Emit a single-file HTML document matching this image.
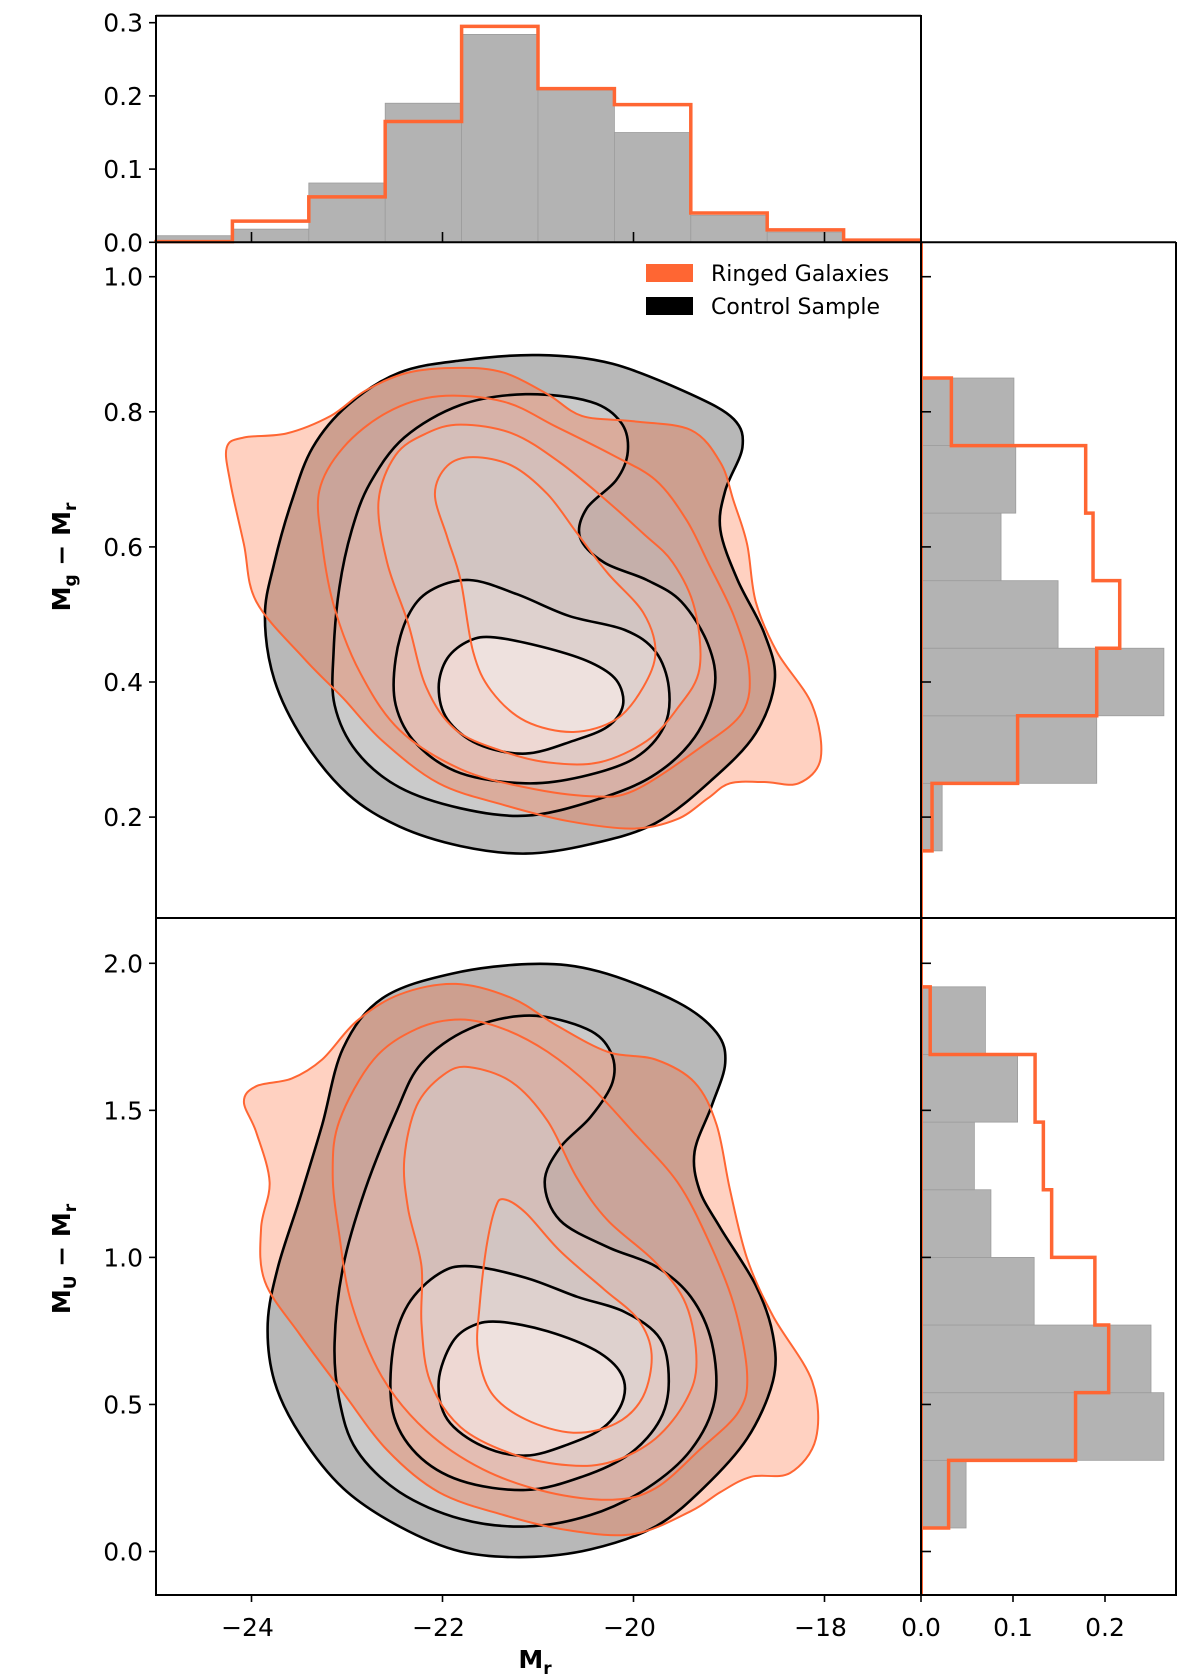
<!DOCTYPE html>
<html><head><meta charset="utf-8"><style>
html,body{margin:0;padding:0;background:#fff;}
svg{display:block;font-family:"DejaVu Sans","Liberation Sans",sans-serif;}
</style></head><body>
<svg id="fig" xmlns="http://www.w3.org/2000/svg" width="1200" height="1680" viewBox="0 0 1200 1680">
<rect width="1200" height="1680" fill="#fff"/>
<g id="top-hist"></g>
<g id="main1"></g>
<g id="main2"></g>
<g id="right1"></g>
<g id="right2"></g>
<g id="axes"></g>
<g>
  <rect x="646" y="264" width="47" height="18" fill="#ff6633"/>
  <text x="711" y="281" font-size="22">Ringed Galaxies</text>
  <rect x="646" y="297" width="47" height="18" fill="#000"/>
  <text x="711" y="314" font-size="22">Control Sample</text>
</g>
<text transform="translate(70,557) rotate(-90)" text-anchor="middle" font-size="25" font-weight="bold">M<tspan font-size="17" dy="6">g</tspan><tspan dy="-6"> − M</tspan><tspan font-size="17" dy="6">r</tspan></text>
<text transform="translate(70,1259) rotate(-90)" text-anchor="middle" font-size="25" font-weight="bold">M<tspan font-size="17" dy="6">U</tspan><tspan dy="-6"> − M</tspan><tspan font-size="17" dy="6">r</tspan></text>
<text x="535" y="1668" text-anchor="middle" font-size="25" font-weight="bold">M<tspan font-size="17" dy="6">r</tspan></text>
</svg>
<script>
// ---------- data ----------
const magEdges = [-25,-24.2,-23.4,-22.6,-21.8,-21.0,-20.2,-19.4,-18.6,-17.8,-17.0];
const topControl = [0.009,0.018,0.081,0.190,0.284,0.208,0.150,0.037,0.014,0.002];
const topRinged = [0.001,0.029,0.062,0.165,0.295,0.210,0.188,0.040,0.017,0.003];
const grEdges = [0.15,0.25,0.35,0.45,0.55,0.65,0.75,0.85];
const grControl = [0.023,0.191,0.264,0.149,0.087,0.103,0.101];
const grRinged = [0.012,0.105,0.191,0.216,0.187,0.179,0.033];
const urEdges = [0.08,0.31,0.54,0.77,1.00,1.23,1.46,1.69,1.92];
const urControl = [0.049,0.264,0.250,0.123,0.076,0.058,0.105,0.070];
const urRinged = [0.030,0.168,0.204,0.189,0.142,0.133,0.124,0.010];
const topTicks = ["0.0","0.1","0.2","0.3"];
const grTicks = ["0.2","0.4","0.6","0.8","1.0"];
const urTicks = ["0.0","0.5","1.0","1.5","2.0"];
const magTicks = ["−24","−22","−20","−18"];
const sideTicks = ["0.0","0.1","0.2"];

// contour vertices (data coordinates) — g-r panel
const grControl1 = [[-20.99,0.884],[-20.22,0.871],[-19.40,0.826],[-18.95,0.789],[-18.86,0.747],[-19.04,0.683],[-19.09,0.625],[-18.91,0.551],[-18.63,0.472],[-18.52,0.403],[-18.72,0.324],[-19.18,0.255],[-19.77,0.191],[-20.45,0.160],[-21.13,0.146],[-21.81,0.157],[-22.45,0.186],[-22.99,0.234],[-23.45,0.313],[-23.76,0.403],[-23.86,0.498],[-23.76,0.577],[-23.58,0.667],[-23.36,0.747],[-22.99,0.810],[-22.45,0.858],[-21.81,0.876]];
const grControl2 = [[-21.13,0.826],[-20.45,0.815],[-20.13,0.784],[-20.06,0.741],[-20.18,0.699],[-20.49,0.657],[-20.56,0.614],[-20.31,0.577],[-19.86,0.551],[-19.50,0.519],[-19.22,0.456],[-19.15,0.392],[-19.36,0.318],[-19.81,0.260],[-20.45,0.223],[-21.13,0.202],[-21.81,0.213],[-22.45,0.244],[-22.90,0.297],[-23.13,0.366],[-23.14,0.445],[-23.08,0.540],[-22.95,0.625],[-22.76,0.694],[-22.40,0.762],[-21.81,0.810]];
const grControl3 = [[-21.72,0.551],[-21.22,0.530],[-20.68,0.498],[-20.09,0.477],[-19.77,0.445],[-19.63,0.392],[-19.68,0.334],[-19.99,0.287],[-20.54,0.260],[-21.13,0.250],[-21.81,0.265],[-22.27,0.308],[-22.49,0.366],[-22.49,0.435],[-22.36,0.498],[-22.13,0.535]];
const grControl4 = [[-21.45,0.466],[-20.90,0.450],[-20.45,0.429],[-20.18,0.403],[-20.11,0.366],[-20.27,0.334],[-20.63,0.313],[-21.13,0.294],[-21.63,0.308],[-21.95,0.345],[-22.04,0.392],[-21.95,0.435],[-21.72,0.461]];
const grRinged1 = [[-21.81,0.865],[-21.36,0.858],[-20.90,0.826],[-20.54,0.794],[-20.00,0.786],[-19.40,0.773],[-19.09,0.725],[-18.95,0.667],[-18.81,0.604],[-18.72,0.519],[-18.50,0.445],[-18.13,0.366],[-18.04,0.287],[-18.27,0.250],[-18.63,0.252],[-18.99,0.250],[-19.22,0.228],[-19.54,0.197],[-20.00,0.183],[-20.68,0.194],[-21.36,0.218],[-22.04,0.250],[-22.63,0.313],[-23.04,0.376],[-23.45,0.435],[-23.95,0.519],[-24.08,0.604],[-24.22,0.694],[-24.26,0.747],[-24.08,0.762],[-23.63,0.768],[-23.17,0.794],[-22.81,0.831],[-22.36,0.858]];
const grRinged2 = [[-22.04,0.823],[-21.36,0.815],[-20.81,0.778],[-20.22,0.736],[-19.77,0.699],[-19.45,0.641],[-19.22,0.577],[-18.95,0.498],[-18.79,0.419],[-18.86,0.355],[-19.31,0.302],[-20.00,0.239],[-20.45,0.231],[-21.13,0.244],[-21.81,0.271],[-22.45,0.329],[-22.86,0.413],[-23.13,0.509],[-23.26,0.604],[-23.29,0.683],[-23.04,0.747],[-22.58,0.799]];
const grRinged3 = [[-21.81,0.781],[-21.27,0.768],[-20.77,0.725],[-20.27,0.667],[-19.90,0.620],[-19.59,0.577],[-19.36,0.509],[-19.31,0.419],[-19.54,0.361],[-19.86,0.313],[-20.36,0.281],[-20.90,0.281],[-21.36,0.297],[-21.86,0.329],[-22.17,0.392],[-22.36,0.487],[-22.58,0.577],[-22.67,0.667],[-22.49,0.736],[-22.17,0.768]];
const grRinged4 = [[-21.68,0.733],[-21.27,0.720],[-20.90,0.678],[-20.59,0.620],[-20.27,0.561],[-19.90,0.503],[-19.77,0.445],[-19.90,0.392],[-20.18,0.345],[-20.63,0.326],[-21.13,0.342],[-21.49,0.387],[-21.68,0.445],[-21.81,0.551],[-21.95,0.614],[-22.08,0.678],[-21.95,0.720]];
// u-r panel
const urControl1 = [[-21.04,1.998],[-20.36,1.972],[-19.54,1.868],[-19.13,1.764],[-19.04,1.660],[-19.18,1.516],[-19.36,1.360],[-19.31,1.230],[-19.09,1.100],[-18.72,0.905],[-18.54,0.736],[-18.54,0.579],[-18.81,0.384],[-19.27,0.215],[-19.77,0.085],[-20.45,0.007],[-21.13,-0.019],[-21.81,0.000],[-22.45,0.085],[-23.04,0.215],[-23.49,0.397],[-23.76,0.579],[-23.83,0.775],[-23.72,0.970],[-23.49,1.204],[-23.26,1.451],[-23.04,1.712],[-22.63,1.881],[-21.90,1.965]];
const urControl2 = [[-21.09,1.822],[-20.49,1.777],[-20.24,1.699],[-20.22,1.595],[-20.45,1.477],[-20.77,1.373],[-20.93,1.256],[-20.77,1.126],[-20.27,1.035],[-19.77,0.970],[-19.40,0.866],[-19.18,0.710],[-19.15,0.514],[-19.40,0.345],[-19.86,0.215],[-20.45,0.124],[-21.13,0.085],[-21.81,0.111],[-22.45,0.202],[-22.90,0.345],[-23.08,0.514],[-23.13,0.710],[-23.04,0.970],[-22.81,1.230],[-22.49,1.490],[-22.22,1.660],[-21.72,1.777]];
const urControl3 = [[-21.72,0.970],[-21.13,0.931],[-20.59,0.866],[-20.09,0.814],[-19.72,0.723],[-19.63,0.579],[-19.72,0.449],[-20.04,0.332],[-20.54,0.254],[-21.13,0.209],[-21.81,0.241],[-22.27,0.332],[-22.52,0.475],[-22.52,0.684],[-22.36,0.840],[-22.04,0.944]];
const urControl4 = [[-21.40,0.781],[-20.90,0.749],[-20.40,0.684],[-20.13,0.605],[-20.11,0.514],[-20.31,0.423],[-20.68,0.365],[-21.13,0.326],[-21.58,0.358],[-21.95,0.449],[-22.04,0.579],[-21.90,0.710],[-21.68,0.768]];
const urRinged1 = [[-21.86,1.930],[-21.27,1.881],[-20.81,1.790],[-20.27,1.699],[-19.77,1.673],[-19.36,1.595],[-19.13,1.451],[-18.99,1.230],[-18.81,0.996],[-18.54,0.801],[-18.13,0.579],[-18.09,0.384],[-18.36,0.267],[-18.77,0.254],[-19.09,0.202],[-19.40,0.137],[-20.00,0.059],[-20.68,0.072],[-21.36,0.124],[-22.04,0.202],[-22.58,0.345],[-23.04,0.540],[-23.49,0.736],[-23.86,0.918],[-23.90,1.100],[-23.81,1.256],[-23.95,1.425],[-24.08,1.529],[-23.95,1.582],[-23.58,1.608],[-23.26,1.673],[-22.90,1.803],[-22.45,1.894]];
const urRinged2 = [[-21.81,1.809],[-21.36,1.777],[-20.90,1.699],[-20.45,1.582],[-20.00,1.425],[-19.54,1.256],[-19.22,1.061],[-18.95,0.840],[-18.81,0.605],[-18.90,0.475],[-19.31,0.345],[-19.77,0.215],[-20.22,0.176],[-20.90,0.202],[-21.58,0.280],[-22.17,0.410],[-22.63,0.592],[-22.95,0.840],[-23.08,1.074],[-23.15,1.282],[-23.08,1.464],[-22.72,1.673],[-22.27,1.777]];
const urRinged3 = [[-21.72,1.647],[-21.27,1.595],[-20.90,1.464],[-20.59,1.269],[-20.27,1.126],[-19.77,0.983],[-19.45,0.840],[-19.34,0.645],[-19.45,0.514],[-19.77,0.384],[-20.22,0.306],[-20.68,0.293],[-21.27,0.332],[-21.81,0.423],[-22.13,0.579],[-22.22,0.775],[-22.22,0.970],[-22.36,1.165],[-22.40,1.334],[-22.27,1.516],[-21.99,1.621]];
const urRinged4 = [[-21.36,1.198],[-21.13,1.152],[-20.77,1.022],[-20.31,0.892],[-19.95,0.788],[-19.81,0.671],[-19.90,0.527],[-20.18,0.436],[-20.63,0.404],[-21.13,0.449],[-21.49,0.540],[-21.63,0.684],[-21.61,0.840],[-21.54,1.035],[-21.45,1.165]];

// ---------- axes functions ----------
const NS = "http://www.w3.org/2000/svg";
const X0 = 156, X1 = 920;
const xMag = v => X0 + (v + 25) / 8 * (X1 - X0);
const yTop = v => 242.3 - v * 732;
const yGr = v => 276.7 + (1.0 - v) * 675.5;
const yUr = v => 963.3 + (2.0 - v) * 294.1;
const xSide = v => 921 + v * 920;

function mk(tag, attrs, parent) {
  const el = document.createElementNS(NS, tag);
  for (const k in attrs) el.setAttribute(k, attrs[k]);
  parent.appendChild(el);
  return el;
}
function smoothPath(pts, fx, fy) {
  const P = pts.map(p => [fx(p[0]), fy(p[1])]);
  const n = P.length;
  let d = "M" + P[0][0].toFixed(1) + "," + P[0][1].toFixed(1);
  for (let i = 0; i < n; i++) {
    const p0 = P[(i - 1 + n) % n], p1 = P[i], p2 = P[(i + 1) % n], p3 = P[(i + 2) % n];
    const c1 = [p1[0] + (p2[0] - p0[0]) / 6, p1[1] + (p2[1] - p0[1]) / 6];
    const c2 = [p2[0] - (p3[0] - p1[0]) / 6, p2[1] - (p3[1] - p1[1]) / 6];
    d += "C" + c1[0].toFixed(1) + "," + c1[1].toFixed(1) + " " + c2[0].toFixed(1) + "," + c2[1].toFixed(1) + " " + p2[0].toFixed(1) + "," + p2[1].toFixed(1);
  }
  return d + "Z";
}

// ---------- top histogram ----------
const gT = document.getElementById("top-hist");
for (let i = 0; i < topControl.length; i++) {
  const r = mk("rect", {x: xMag(magEdges[i]), y: yTop(topControl[i]), width: xMag(magEdges[i+1]) - xMag(magEdges[i]), height: yTop(0) - yTop(topControl[i]), fill: "#b3b3b3", stroke: "#9c9c9c", "stroke-width": 0.8}, gT);
  
  
}
{
  let d = "M" + xMag(magEdges[0]) + "," + yTop(0);
  for (let i = 0; i < topRinged.length; i++) {
    d += "L" + xMag(magEdges[i]) + "," + yTop(topRinged[i]) + "L" + xMag(magEdges[i+1]) + "," + yTop(topRinged[i]);
  }
  d += "L" + xMag(magEdges[magEdges.length-1]) + "," + yTop(0);
  const p = mk("path", {d: d, fill: "none", stroke: "#ff6633", "stroke-width": 3.5}, gT);
  
  
}

// ---------- contour panels ----------
function drawPanel(g, fy, clipY0, clipY1, ctrl, ring, prefix) {
  const cid = prefix + "-clip";
  const cp = mk("clipPath", {id: cid}, g);
  mk("rect", {x: X0, y: clipY0, width: X1 - X0, height: clipY1 - clipY0}, cp);
  const inner = mk("g", {"clip-path": "url(#" + cid + ")"}, g);
  const grays = ["#b8b8b8", "#cacaca", "#d9d9d9", "#ebebeb"];
  ctrl.forEach((c, i) => {
    const p = mk("path", {d: smoothPath(c, xMag, fy), fill: grays[i]}, inner);
    
    
  });
  const oranges = ["rgba(255,102,51,0.30)", "rgba(255,110,70,0.26)", "rgba(255,140,110,0.19)", "rgba(255,165,150,0.15)"];
  ring.forEach((c, i) => {
    let d = smoothPath(c, xMag, fy);
    if (i + 1 < ring.length) d += smoothPath(ring[i+1], xMag, fy);
    const p = mk("path", {d: d, fill: oranges[i], "fill-rule": "evenodd"}, inner);
    
    
  });
  ctrl.forEach(c => {
    const p = mk("path", {d: smoothPath(c, xMag, fy), fill: "none", stroke: "#000", "stroke-width": 2.6}, inner);
    
    
  });
  ring.forEach(c => {
    const p = mk("path", {d: smoothPath(c, xMag, fy), fill: "none", stroke: "#ff6633", "stroke-width": 2}, inner);
    
    
  });
}
drawPanel(document.getElementById("main1"), yGr, 242, 918, [grControl1, grControl2, grControl3, grControl4], [grRinged1, grRinged2, grRinged3, grRinged4], "m1");
drawPanel(document.getElementById("main2"), yUr, 918, 1595, [urControl1, urControl2, urControl3, urControl4], [urRinged1, urRinged2, urRinged3, urRinged4], "m2");

// ---------- side histograms ----------
function drawSide(g, edges, ctrl, ring, fy, yA, yB, name) {
  for (let i = 0; i < ctrl.length; i++) {
    const r = mk("rect", {x: xSide(0), y: fy(edges[i+1]), width: xSide(ctrl[i]) - xSide(0), height: fy(edges[i]) - fy(edges[i+1]), fill: "#b3b3b3", stroke: "#9c9c9c", "stroke-width": 0.8}, g);
    
    
  }
  const v = mk("line", {x1: xSide(0) + 1, x2: xSide(0) + 1, y1: yA, y2: yB, stroke: "#ff6633", "stroke-width": 2}, g);
  
  
  let d = "M" + xSide(0) + "," + fy(edges[0]);
  for (let i = 0; i < ring.length; i++) {
    d += "L" + xSide(ring[i]) + "," + fy(edges[i]) + "L" + xSide(ring[i]) + "," + fy(edges[i+1]);
  }
  d += "L" + xSide(0) + "," + fy(edges[edges.length-1]);
  const p = mk("path", {d: d, fill: "none", stroke: "#ff6633", "stroke-width": 3.5}, g);
  
  
}
drawSide(document.getElementById("right1"), grEdges, grControl, grRinged, yGr, 242, 918, "gr-side");
drawSide(document.getElementById("right2"), urEdges, urControl, urRinged, yUr, 918, 1595, "ur-side");

// ---------- frames, ticks, labels ----------
const gA = document.getElementById("axes");
function line(x1, y1, x2, y2, w, name) {
  const l = mk("line", {x1: x1, y1: y1, x2: x2, y2: y2, stroke: "#000", "stroke-width": w}, gA);
  
  
}
function label(x, y, t, anchor, name) {
  const e = mk("text", {x: x, y: y, "text-anchor": anchor, "font-size": 25}, gA);
  e.textContent = t;
  
  
}
line(156, 15.7, 921, 15.7, 2, "top-hist-frame-top");
line(156, 15, 156, 1596, 2, "left-frame");
line(921, 15, 921, 1596, 2, "middle-frame");
line(156, 242.3, 1176, 242.3, 2, "panel-divider-top");
line(156, 918, 1176, 918, 2, "panel-divider-mid");
line(156, 1595, 1176, 1595, 2, "bottom-frame");
line(1176, 242, 1176, 1596, 2, "right-frame");
topTicks.forEach(t => {
  const y = yTop(parseFloat(t));
  line(149, y, 156, y, 1.6, "top-y-tick");
  label(143, y + 9, t, "end", "top-y-tick-label");
});
magTicks.forEach(t => {
  const x = xMag(parseFloat(t.replace("−", "-")));
  line(x, 242, x, 232, 1.6, "top-x-tick");
});
grTicks.forEach(t => {
  const y = yGr(parseFloat(t));
  line(149, y, 156, y, 1.6, "gr-y-tick");
  line(921, y, 931, y, 1.6, "gr-side-y-tick");
  label(143, y + 9, t, "end", "gr-y-tick-label");
});
urTicks.forEach(t => {
  const y = yUr(parseFloat(t));
  line(149, y, 156, y, 1.6, "ur-y-tick");
  line(921, y, 931, y, 1.6, "ur-side-y-tick");
  label(143, y + 9, t, "end", "ur-y-tick-label");
});
magTicks.forEach(t => {
  const x = xMag(parseFloat(t.replace("−", "-")));
  line(x, 1595, x, 1602, 1.6, "x-tick");
  label(x - 4, 1636, t, "middle", "x-tick-label");
});
sideTicks.forEach(t => {
  const x = xSide(parseFloat(t));
  line(x, 1595, x, 1602, 1.6, "side-x-tick");
  label(x, 1636, t, "middle", "side-x-tick-label");
});
</script>
</body></html>
